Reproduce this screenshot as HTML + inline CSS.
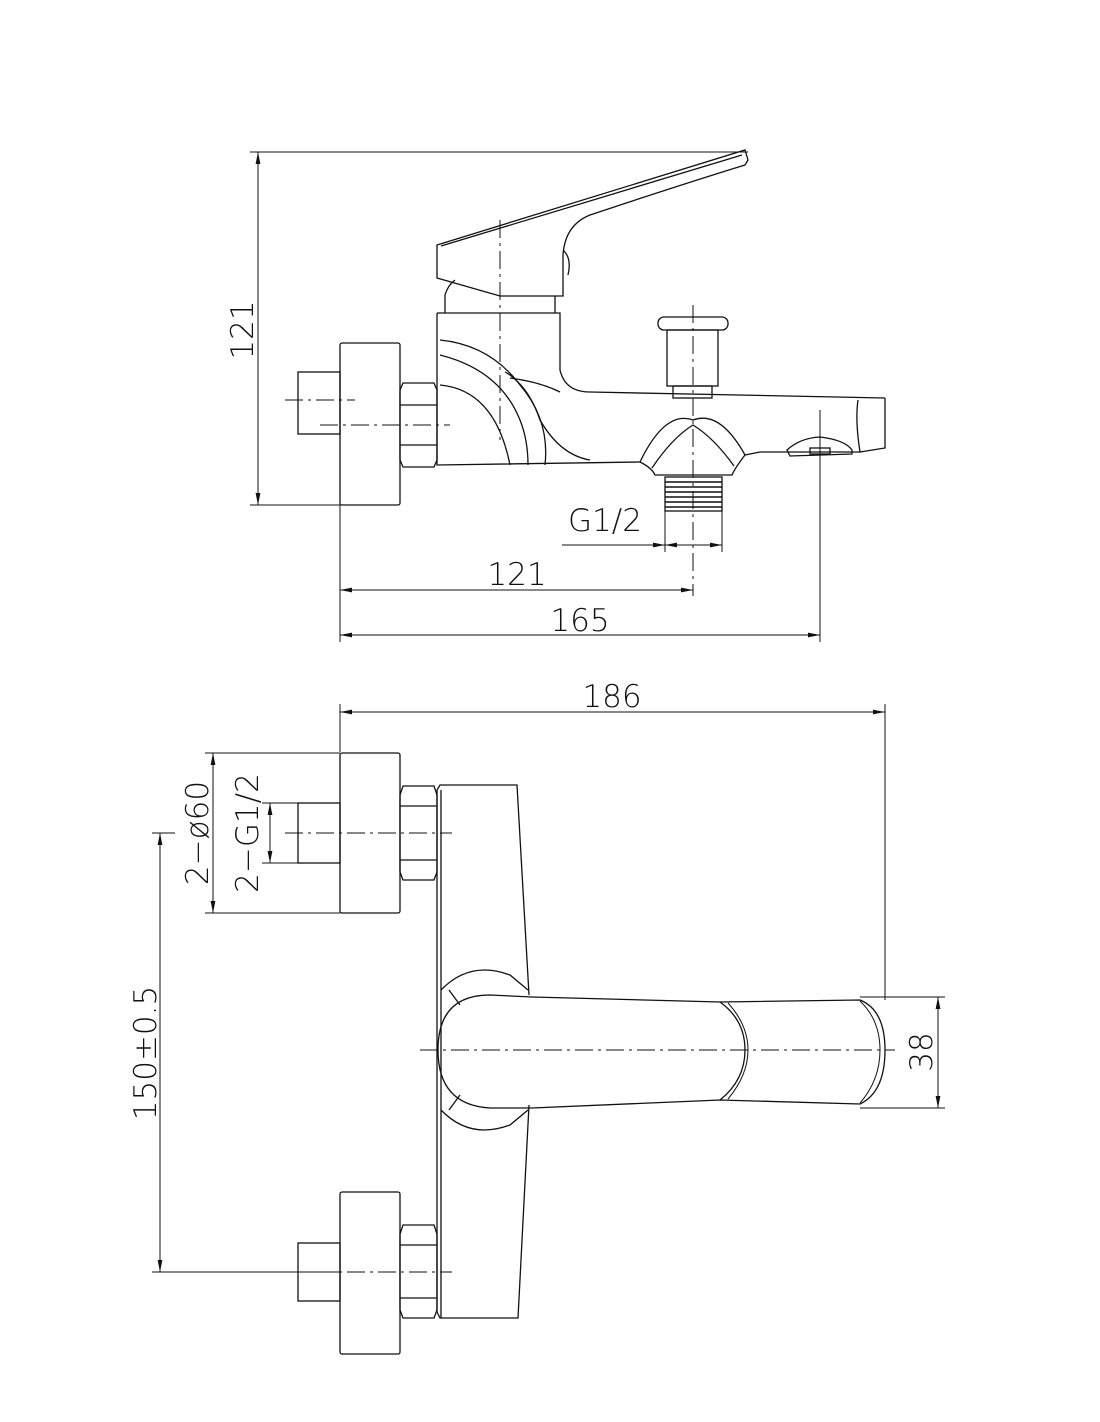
<!DOCTYPE html>
<html><head><meta charset="utf-8"><style>
html,body{margin:0;padding:0;background:#fff;}
svg{display:block;}
text{font-family:"DejaVu Sans","Liberation Sans",sans-serif;fill:#111;font-weight:300;}
</style></head><body>
<svg width="1100" height="1422" viewBox="0 0 1100 1422" xmlns="http://www.w3.org/2000/svg">
<defs>
<marker id="a" viewBox="0 0 10 10" refX="10" refY="5" markerWidth="12" markerHeight="12" markerUnits="userSpaceOnUse" orient="auto-start-reverse"><path d="M0,3 L10,5 L0,7 Z" fill="#111"/></marker>
</defs>
<g fill="none" stroke="#111" stroke-width="1.3">
<!-- ========== TOP VIEW ========== -->
<line x1="250" y1="152" x2="748" y2="152" stroke-width="1"/>
<line x1="250" y1="505" x2="340" y2="505" stroke-width="1"/>
<line x1="258" y1="152" x2="258" y2="505" stroke-width="1" marker-start="url(#a)" marker-end="url(#a)"/>
<rect x="298" y="372" width="42" height="62"/>
<line x1="285" y1="400" x2="355" y2="400" stroke-dasharray="18,5,3,5" stroke-width="1"/>
<rect x="340" y="343" width="60" height="162" rx="2"/>
<path d="M403,383 L434,383 L437,390 L437,460 L434,467 L403,467 L400,460 L400,390 Z"/>
<line x1="400" y1="405" x2="437" y2="405"/><line x1="400" y1="445" x2="437" y2="445"/>
<line x1="320" y1="425" x2="450" y2="425" stroke-dasharray="18,5,3,5" stroke-width="1"/>
<path d="M437,313 L437,465 L640,462"/>
<path d="M437,313 L560,313 L560,370 Q565,392 590,392 L885,398"/>
<path d="M445,313 L445,295 Q448,285 455,280"/>
<line x1="555" y1="313" x2="555" y2="296"/>
<path d="M437,245 L745,150 L748,160 L745,165 Q680,185 590,215 Q565,225 563,255 L563,296 L500,296 L437,278 Z"/>
<path d="M441,246 L742,155"/>
<path d="M563,250 Q572,258 568,275"/>
<path d="M440,340 Q490,345 520,385 Q550,420 545,465" />
<path d="M440,355 Q500,370 520,420 Q528,440 528,465"/>
<path d="M440,385 Q495,390 510,465"/>
<path d="M505,372 L510,375 Q530,390 540,420 Q560,455 590,460"/>
<path d="M510,378 Q540,382 560,392"/>
<path d="M885,398 L885,448 L860,452 Q855,420 858,400"/>
<path d="M760,452 L860,452"/>
<path d="M640,462 Q665,410 693,420 Q720,410 745,455 L760,452"/>
<path d="M652,468 Q672,438 693,425 Q714,438 734,466"/>
<path d="M640,462 Q652,468 655,475 L732,475 Q735,468 745,455"/>
<rect x="665" y="477" width="57" height="34"/>
<g stroke-width="1.6"><line x1="665" y1="482" x2="722" y2="482"/><line x1="665" y1="487" x2="722" y2="487"/><line x1="665" y1="492" x2="722" y2="492"/><line x1="665" y1="497" x2="722" y2="497"/><line x1="665" y1="502" x2="722" y2="502"/><line x1="665" y1="507" x2="722" y2="507"/></g>
<rect x="658" y="317" width="70" height="13" rx="6"/>
<rect x="667" y="330" width="51" height="56"/>
<rect x="673" y="386" width="39" height="12"/>
<path d="M787,450 Q800,438 820,437 Q845,440 852,450 L852,454 L790,456 Z"/>
<rect x="810" y="448" width="20" height="6"/>
<line x1="500" y1="220" x2="500" y2="440" stroke-dasharray="18,5,3,5" stroke-width="1"/>
<line x1="693" y1="305" x2="693" y2="596" stroke-dasharray="18,5,3,5" stroke-width="1"/>
<line x1="665" y1="511" x2="665" y2="552" stroke-width="1"/>
<line x1="722" y1="511" x2="722" y2="552" stroke-width="1"/>
<line x1="562" y1="545" x2="665" y2="545" stroke-width="1" marker-end="url(#a)"/>
<line x1="665" y1="545" x2="722" y2="545" stroke-width="1" marker-start="url(#a)" marker-end="url(#a)"/>
<line x1="340" y1="505" x2="340" y2="642" stroke-width="1"/>
<line x1="820" y1="410" x2="820" y2="642" stroke-width="1"/>
<line x1="340" y1="590" x2="693" y2="590" stroke-width="1" marker-start="url(#a)" marker-end="url(#a)"/>
<line x1="340" y1="635" x2="820" y2="635" stroke-width="1" marker-start="url(#a)" marker-end="url(#a)"/>

<!-- ========== BOTTOM VIEW ========== -->
<line x1="340" y1="704" x2="340" y2="752" stroke-width="1"/>
<line x1="885" y1="704" x2="885" y2="1000" stroke-width="1"/>
<line x1="340" y1="712" x2="885" y2="712" stroke-width="1" marker-start="url(#a)" marker-end="url(#a)"/>
<line x1="205" y1="753" x2="340" y2="753" stroke-width="1"/>
<line x1="205" y1="913" x2="340" y2="913" stroke-width="1"/>
<line x1="213" y1="753" x2="213" y2="913" stroke-width="1" marker-start="url(#a)" marker-end="url(#a)"/>
<line x1="262" y1="803" x2="298" y2="803" stroke-width="1"/>
<line x1="262" y1="863" x2="298" y2="863" stroke-width="1"/>
<line x1="270" y1="803" x2="270" y2="863" stroke-width="1" marker-start="url(#a)" marker-end="url(#a)"/>
<line x1="152" y1="833" x2="175" y2="833" stroke-width="1"/>
<line x1="152" y1="1272" x2="340" y2="1272" stroke-width="1"/>
<line x1="160" y1="833" x2="160" y2="1272" stroke-width="1" marker-start="url(#a)" marker-end="url(#a)"/>
<line x1="860" y1="997" x2="945" y2="997" stroke-width="1"/>
<line x1="860" y1="1108" x2="945" y2="1108" stroke-width="1"/>
<line x1="938" y1="997" x2="938" y2="1108" stroke-width="1" marker-start="url(#a)" marker-end="url(#a)"/>
<rect x="298" y="803" width="42" height="60"/>
<rect x="340" y="753" width="60" height="160" rx="2"/>
<path d="M403,786 L434,786 L437,795 L437,872 L434,880 L403,880 L400,872 L400,795 Z"/>
<line x1="400" y1="806" x2="437" y2="806"/><line x1="400" y1="860" x2="437" y2="860"/>
<line x1="285" y1="833" x2="452" y2="833" stroke-dasharray="18,5,3,5" stroke-width="1"/>
<rect x="298" y="1243" width="42" height="58"/>
<rect x="340" y="1192" width="60" height="162" rx="2"/>
<path d="M403,1225 L434,1225 L437,1234 L437,1310 L434,1318 L403,1318 L400,1310 L400,1234 Z"/>
<line x1="400" y1="1245" x2="437" y2="1245"/><line x1="400" y1="1298" x2="437" y2="1298"/>
<line x1="285" y1="1272" x2="452" y2="1272" stroke-dasharray="18,5,3,5" stroke-width="1"/>
<path d="M437,790 L440,785 L517,785 L529,995"/>
<path d="M529,1105 L518,1318 L440,1318 L437,1312"/>
<line x1="437" y1="790" x2="437" y2="1312"/>
<line x1="441" y1="790" x2="441" y2="1318"/>
<path d="M441,990 Q470,960 510,975 L528,990"/>
<path d="M441,1110 Q470,1140 510,1125 L528,1110"/>
<path d="M449,990 L460,1005 M449,1110 L460,1095"/>
<path d="M532,997 L720,1002 L860,1000 Q885,1010 885,1050 Q885,1092 860,1104 L720,1100 L532,1108 L490,1108 Q438,1105 438,1050 Q438,995 490,995 Z"/>
<path d="M720,1002 Q745,1020 745,1050 Q745,1080 720,1100"/>
<path d="M728,1003 Q748,1025 748,1050 Q748,1075 728,1099" stroke-width="1"/>
<path d="M860,1001 Q880,1020 880,1050 Q880,1080 860,1103" stroke-width="1"/>
<line x1="420" y1="1050" x2="895" y2="1050" stroke-dasharray="18,5,3,5" stroke-width="1"/>
</g>
<g font-size="31">
<text transform="translate(253,330) rotate(-90)" text-anchor="middle">121</text>
<text x="605" y="531" text-anchor="middle">G1/2</text>
<text x="517" y="585" text-anchor="middle">121</text>
<text x="580" y="631" text-anchor="middle">165</text>
<text x="612" y="707" text-anchor="middle">186</text>
<text transform="translate(208,833) rotate(-90)" text-anchor="middle">2−ø60</text>
<text transform="translate(258,833) rotate(-90)" text-anchor="middle">2−G1/2</text>
<text transform="translate(156,1053) rotate(-90)" text-anchor="middle">150±0.5</text>
<text transform="translate(932,1052) rotate(-90)" text-anchor="middle">38</text>
</g>
</svg>
</body></html>
